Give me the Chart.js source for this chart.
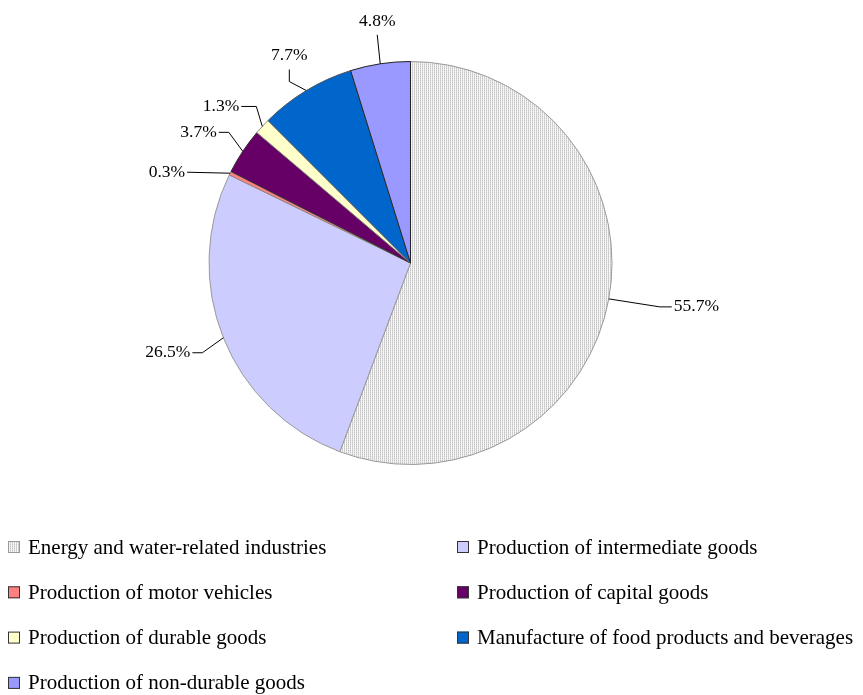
<!DOCTYPE html>
<html>
<head>
<meta charset="utf-8">
<script src="https://cdn.jsdelivr.net/npm/chart.js@4"></script>
<style>
  html, body { margin: 0; padding: 0; background: #fff; }
  #wrap { width: 863px; height: 695px; }
</style>
</head>
<body>
<div id="wrap"><canvas id="pieChart" width="863" height="695"></canvas></div>
<script>
// Datos del gráfico
const categories = [
  'Energy and water-related industries',
  'Production of intermediate goods',
  'Production of motor vehicles',
  'Production of capital goods',
  'Production of durable goods',
  'Manufacture of food products and beverages',
  'Production of non-durable goods'
];
const shares = [55.7, 26.5, 0.3, 3.7, 1.3, 7.7, 4.8];
const shareLabels = ['55.7%', '26.5%', '0.3%', '3.7%', '1.3%', '7.7%', '4.8%'];

// trama rayada para el primer sector
function stripes() {
  const c = document.createElement('canvas');
  c.width = 2; c.height = 2;
  const g = c.getContext('2d');
  g.fillStyle = '#f6f6f6'; g.fillRect(0, 0, 2, 2);
  g.fillStyle = '#c4c4c4'; g.fillRect(0, 0, 1, 2);
  g.fillStyle = '#d8d8d8'; g.fillRect(0, 1, 1, 1);
  return g.createPattern(c, 'repeat');
}

const ctx = document.getElementById('pieChart').getContext('2d');
const fills = [stripes(), '#ccccff', '#ff8080', '#660066', '#ffffcc', '#0066cc', '#9999ff'];
const borders = ['#999999', '#999999', '#888888', '#333333', '#888888', '#555555', '#222222'];

// codos de las líneas guía (desplazamiento desde el borde del sector) y lado del texto
const leaders = [
  { dx: 51, dy: 8, tail: 12, side: 'right' },
  { dx: -21, dy: 15, tail: 10, side: 'left' },
  { dx: -43, dy: -1, tail: 0, side: 'left' },
  { dx: -14, dy: -19, tail: 10, side: 'left' },
  { dx: -6, dy: -20, tail: 15, side: 'left' },
  { dx: -17, dy: -9, tail: 0, side: 'up', up: 12 },
  { dx: -3, dy: -29, tail: 0, side: 'up', up: 0 }
];

const labelPlugin = {
  id: 'leaderLabels',
  afterDraw(chart) {
    const c = chart.ctx;
    const meta = chart.getDatasetMeta(0);
    c.save();
    c.strokeStyle = '#000';
    c.lineWidth = 1;
    c.fillStyle = '#000';
    c.font = '17.5px "Liberation Serif", "Times New Roman", serif';
    meta.data.forEach((arc, i) => {
      const mid = (arc.startAngle + arc.endAngle) / 2;
      const x0 = arc.x + Math.cos(mid) * arc.outerRadius;
      const y0 = arc.y + Math.sin(mid) * arc.outerRadius;
      const L = leaders[i];
      const x1 = x0 + L.dx, y1 = y0 + L.dy;
      c.beginPath();
      c.moveTo(x0, y0);
      c.lineTo(x1, y1);
      if (L.side === 'right') {
        c.lineTo(x1 + L.tail, y1);
        c.stroke();
        c.textAlign = 'left'; c.textBaseline = 'middle';
        c.fillText(shareLabels[i], x1 + L.tail + 2, y1);
      } else if (L.side === 'left') {
        c.lineTo(x1 - L.tail, y1);
        c.stroke();
        c.textAlign = 'right'; c.textBaseline = 'middle';
        c.fillText(shareLabels[i], x1 - L.tail - 2, y1);
      } else {
        c.lineTo(x1, y1 - L.up);
        c.stroke();
        c.textAlign = 'center'; c.textBaseline = 'bottom';
        c.fillText(shareLabels[i], x1, y1 - L.up - 5);
      }
    });
    c.restore();
  }
};

// leyenda en dos columnas
const legendPlugin = {
  id: 'twoColLegend',
  afterDraw(chart) {
    const c = chart.ctx;
    c.save();
    c.font = '21px "Liberation Serif", "Times New Roman", serif';
    c.textAlign = 'left';
    c.textBaseline = 'middle';
    categories.forEach((name, i) => {
      const col = i % 2, row = Math.floor(i / 2);
      const bx = col === 0 ? 8 : 457;
      const cy = 547 + row * 45.3;
      c.fillStyle = fills[i];
      c.fillRect(bx, cy - 6, 12, 12);
      c.strokeStyle = i === 0 ? '#999' : '#333';
      c.lineWidth = 1;
      c.strokeRect(bx + 0.5, cy - 5.5, 11, 11);
      c.fillStyle = '#000';
      c.fillText(name, bx + 20, cy + 1);
    });
    c.restore();
  }
};

new Chart(ctx, {
  type: 'pie',
  data: {
    labels: categories,
    datasets: [{
      data: shares,
      backgroundColor: fills,
      borderColor: borders,
      borderWidth: 1
    }]
  },
  options: {
    responsive: false,
    animation: false,
    layout: { padding: { top: 61, bottom: 230, left: 208, right: 250 } },
    plugins: {
      legend: { display: false },
      tooltip: { enabled: false }
    }
  },
  plugins: [labelPlugin, legendPlugin]
});
</script>
</body>
</html>
